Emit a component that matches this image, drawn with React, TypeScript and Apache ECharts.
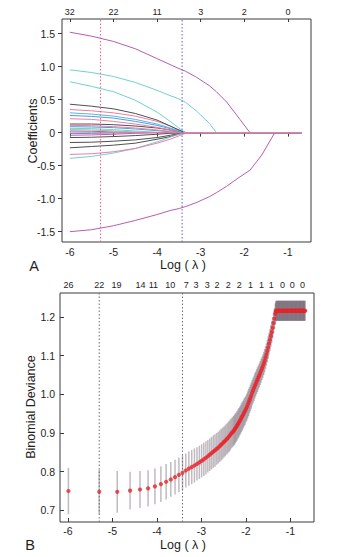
import { useEffect, useRef } from "react";
import * as echarts from "echarts";

// ---------- Panel A: coefficient paths ----------
const logLambdaA = [-6, -5.5, -5, -4.5, -4, -3.7, -3.5, -3.35, -3.1, -2.8, -2.64, -2.4, -2.1, -1.87, -1.6, -1.3, -0.69];

const coefPurpleTop = [1.52, 1.46, 1.38, 1.27, 1.12, 1.03, 0.97, 0.93, 0.84, 0.71, 0.62, 0.46, 0.2, 0, 0, 0, 0];
const coefPurpleBottom = [-1.5, -1.47, -1.41, -1.33, -1.24, -1.18, -1.15, -1.12, -1.06, -0.97, -0.91, -0.81, -0.67, -0.57, -0.34, 0, 0];
const coefCyanTop = [0.95, 0.91, 0.85, 0.76, 0.64, 0.56, 0.51, 0.46, 0.33, 0.14, 0, 0, 0, 0, 0, 0, 0];
const coefCyan2 = [0.77, 0.7, 0.62, 0.49, 0.31, 0.17, 0.07, 0, 0, 0, 0, 0, 0, 0, 0, 0, 0];
const coefBlack1 = [0.43, 0.4, 0.36, 0.29, 0.19, 0.1, 0.04, 0, 0, 0, 0, 0, 0, 0, 0, 0, 0];
const coefPink1 = [0.35, 0.33, 0.3, 0.25, 0.17, 0.1, 0.04, 0, 0, 0, 0, 0, 0, 0, 0, 0, 0];
const coefLightBlue1 = [0.3, 0.28, 0.25, 0.2, 0.13, 0.07, 0.03, 0, 0, 0, 0, 0, 0, 0, 0, 0, 0];
const coefBlue1 = [0.26, 0.245, 0.22, 0.17, 0.11, 0.06, 0.02, 0, 0, 0, 0, 0, 0, 0, 0, 0, 0];
const coefPink2 = [0.21, 0.2, 0.17, 0.13, 0.08, 0.04, 0.01, 0, 0, 0, 0, 0, 0, 0, 0, 0, 0];
const coefBlack2 = [0.13, 0.13, 0.12, 0.1, 0.07, 0.04, 0.015, 0, 0, 0, 0, 0, 0, 0, 0, 0, 0];
const coefPink3 = [0.11, 0.105, 0.09, 0.07, 0.04, 0.02, 0.005, 0, 0, 0, 0, 0, 0, 0, 0, 0, 0];
const coefBlue2 = [0.09, 0.085, 0.075, 0.055, 0.03, 0.012, 0, 0, 0, 0, 0, 0, 0, 0, 0, 0, 0];
const coefCyan3 = [0.065, 0.06, 0.045, 0.025, 0.005, 0, 0, 0, 0, 0, 0, 0, 0, 0, 0, 0, 0];
const coefGreen1 = [0.045, 0.04, 0.025, 0.01, 0, 0, 0, 0, 0, 0, 0, 0, 0, 0, 0, 0, 0];
const coefPurple3 = [0.025, 0.02, 0.01, 0, 0, 0, 0, 0, 0, 0, 0, 0, 0, 0, 0, 0, 0];
const coefBlue3 = [-0.015, -0.012, -0.006, 0, 0, 0, 0, 0, 0, 0, 0, 0, 0, 0, 0, 0, 0];
const coefPurple4 = [-0.04, -0.035, -0.025, -0.01, 0, 0, 0, 0, 0, 0, 0, 0, 0, 0, 0, 0, 0];
const coefBlack3 = [-0.075, -0.07, -0.06, -0.045, -0.025, -0.01, -0.003, 0, 0, 0, 0, 0, 0, 0, 0, 0, 0];
const coefBlack4 = [-0.15, -0.145, -0.13, -0.11, -0.075, -0.04, -0.015, 0, 0, 0, 0, 0, 0, 0, 0, 0, 0];
const coefBlack5 = [-0.23, -0.21, -0.19, -0.16, -0.1, -0.06, -0.025, 0, 0, 0, 0, 0, 0, 0, 0, 0, 0];
const coefCyan4 = [-0.39, -0.36, -0.31, -0.24, -0.14, -0.07, -0.025, 0, 0, 0, 0, 0, 0, 0, 0, 0, 0];
const coefPink5 = [-0.33, -0.32, -0.29, -0.24, -0.16, -0.1, -0.05, -0.01, 0, 0, 0, 0, 0, 0, 0, 0, 0];
const coefPink4 = [0.008, 0.005, 0, 0, 0, 0, 0, 0, 0, 0, 0, 0, 0, 0, 0, 0, 0];

const PURPLE = "#b65db4";
const CYAN = "#6fd0d6";
const DARK = "#505050";
const PINK = "#f17ba1";
const BLUE = "#4a9fdf";
const GREEN = "#8cc58c";

const pathsA: [number[], string][] = [
  [coefPurple3, PURPLE],
  [coefGreen1, GREEN],
  [coefCyan3, CYAN],
  [coefBlue3, BLUE],
  [coefPurple4, PURPLE],
  [coefBlue2, BLUE],
  [coefPink3, PINK],
  [coefBlack2, DARK],
  [coefBlack3, DARK],
  [coefPink2, PINK],
  [coefBlue1, BLUE],
  [coefLightBlue1, "#55b6e3"],
  [coefBlack4, DARK],
  [coefBlack5, DARK],
  [coefCyan4, CYAN],
  [coefPink1, PINK],
  [coefBlack1, DARK],
  [coefCyan2, CYAN],
  [coefCyanTop, CYAN],
  [coefPurpleTop, PURPLE],
  [coefPurpleBottom, PURPLE],
  [coefPink5, PINK],
  [coefPink4, PINK],
];

const ticksX = [-6, -5, -4, -3, -2, -1];
const dfTopA = ["32", "22", "11", "3", "2", "0"];
const ticksYA = [-1.5, -1, -0.5, 0, 0.5, 1, 1.5];
const lambdaMinLog = -5.298;
const lambda1seLog = -3.426;

// ---------- Panel B: cross-validation deviance ----------
const logLambdaB = [
  -5.991, -5.298, -4.893, -4.605, -4.382, -4.2, -4.046, -3.912, -3.794, -3.689, -3.594, -3.507, -3.426, -3.352,
  -3.283, -3.219, -3.158, -3.101, -3.047, -2.996, -2.947, -2.9, -2.856, -2.813, -2.773, -2.733, -2.696, -2.659,
  -2.624, -2.59, -2.557, -2.526, -2.495, -2.465, -2.436, -2.408, -2.381, -2.354, -2.328, -2.303,
  -2.28, -2.26, -2.24, -2.22, -2.2, -2.18, -2.16, -2.14, -2.12, -2.1, -2.08, -2.06, -2.04, -2.02, -2.0, -1.98,
  -1.96, -1.94, -1.92, -1.9, -1.88, -1.86, -1.84, -1.82, -1.8, -1.78, -1.76, -1.74, -1.72, -1.7, -1.68, -1.66,
  -1.64, -1.62, -1.6, -1.58, -1.56, -1.54, -1.52, -1.5, -1.48, -1.46, -1.44, -1.42, -1.4, -1.38, -1.36, -1.34,
  -1.33, -1.32, -1.31, -1.3, -1.29, -1.28, -1.27, -1.26, -1.25, -1.24, -1.23, -1.22, -1.21, -1.2, -1.19, -1.18,
  -1.17, -1.16, -1.15, -1.14, -1.13, -1.12, -1.11, -1.1, -1.09, -1.08, -1.07, -1.06, -1.05, -1.04, -1.03, -1.02,
  -1.01, -1.0, -0.99, -0.98, -0.97, -0.96, -0.95, -0.94, -0.93, -0.92, -0.91, -0.9, -0.89, -0.88, -0.87, -0.86,
  -0.85, -0.84, -0.83, -0.82, -0.81, -0.8, -0.79, -0.78, -0.77, -0.76, -0.75, -0.74, -0.73, -0.72, -0.71, -0.7,
  -0.69, -0.68, -0.67,
];
const devianceB = [
  0.75, 0.748, 0.748, 0.751, 0.754, 0.757, 0.762, 0.768, 0.774, 0.78, 0.786, 0.792, 0.797, 0.803,
  0.808, 0.812, 0.816, 0.82, 0.824, 0.828, 0.832, 0.836, 0.84, 0.844, 0.848, 0.852, 0.855, 0.859,
  0.862, 0.866, 0.87, 0.873, 0.877, 0.88, 0.884, 0.887, 0.891, 0.895, 0.899, 0.902,
  0.905, 0.908, 0.912, 0.915, 0.919, 0.923, 0.927, 0.931, 0.935, 0.94, 0.944, 0.948, 0.953, 0.957, 0.962, 0.967,
  0.973, 0.979, 0.985, 0.991, 0.997, 1.004, 1.01, 1.016, 1.022, 1.027, 1.033, 1.038, 1.044, 1.049, 1.055, 1.061,
  1.067, 1.073, 1.08, 1.087, 1.095, 1.103, 1.112, 1.121, 1.131, 1.141, 1.151, 1.161, 1.172, 1.184, 1.196, 1.208,
  1.214, 1.216, 1.216, 1.216, 1.216, 1.216, 1.216, 1.216, 1.216, 1.216, 1.216, 1.216, 1.216, 1.216, 1.216, 1.216,
  1.216, 1.216, 1.216, 1.216, 1.216, 1.216, 1.216, 1.216, 1.216, 1.216, 1.216, 1.216, 1.216, 1.216, 1.216, 1.216,
  1.216, 1.216, 1.216, 1.216, 1.216, 1.216, 1.216, 1.216, 1.216, 1.216, 1.216, 1.216, 1.216, 1.216, 1.216, 1.216,
  1.216, 1.216, 1.216, 1.216, 1.216, 1.216, 1.216, 1.216, 1.216, 1.216, 1.216, 1.216, 1.216, 1.216, 1.216, 1.216,
  1.216, 1.216, 1.216,
];
const devianceSE = [
  0.06, 0.057, 0.054, 0.049, 0.048, 0.047, 0.046, 0.046, 0.046, 0.045, 0.045, 0.045, 0.045, 0.044,
  0.044, 0.044, 0.044, 0.043, 0.043, 0.043, 0.043, 0.043, 0.042, 0.042, 0.042, 0.042, 0.042, 0.041,
  0.041, 0.041, 0.041, 0.041, 0.04, 0.04, 0.04, 0.04, 0.04, 0.04, 0.039, 0.039,
  0.039, 0.039, 0.039, 0.038, 0.038, 0.038, 0.038, 0.037, 0.037, 0.037, 0.037, 0.036, 0.036, 0.036, 0.035, 0.035,
  0.035, 0.035, 0.034, 0.034, 0.034, 0.033, 0.033, 0.033, 0.033, 0.032, 0.032, 0.032, 0.031, 0.031, 0.031, 0.031,
  0.03, 0.03, 0.03, 0.03, 0.029, 0.029, 0.029, 0.029, 0.028, 0.028, 0.028, 0.028, 0.027, 0.027, 0.027, 0.027,
  0.026, 0.026, 0.026, 0.026, 0.026, 0.026, 0.026, 0.026, 0.026, 0.026, 0.026, 0.026, 0.026, 0.026, 0.026, 0.026,
  0.026, 0.026, 0.026, 0.026, 0.026, 0.026, 0.026, 0.026, 0.026, 0.026, 0.026, 0.026, 0.026, 0.026, 0.026, 0.026,
  0.026, 0.026, 0.026, 0.026, 0.026, 0.026, 0.026, 0.026, 0.026, 0.026, 0.026, 0.026, 0.026, 0.026, 0.026, 0.026,
  0.026, 0.026, 0.026, 0.026, 0.026, 0.026, 0.026, 0.026, 0.026, 0.026, 0.026, 0.026, 0.026, 0.026, 0.026, 0.026,
  0.026, 0.026, 0.026,
];
const dfTopBPos = [-5.99, -5.3, -4.91, -4.37, -4.08, -3.7, -3.34, -3.12, -2.87, -2.65, -2.4, -2.15, -1.9, -1.65, -1.43, -1.18, -0.96, -0.73];
const dfTopBLabels = ["26", "22", "19", "14", "11", "10", "7", "3", "3", "2", "2", "2", "1", "1", "1", "0", "0", "0"];
const ticksYB = [0.7, 0.8, 0.9, 1.0, 1.1, 1.2];

const X_MIN = -6.18;
const X_MAX = -0.47;
const YA_MIN = -1.656;
const YA_MAX = 1.72;
const YB_MIN = 0.67;
const YB_MAX = 1.262;
const FONT = "Liberation Sans, Arial, Helvetica, sans-serif";
const TXT = "#1e1e1e";
const AXC = "#3a3a3a";

function nearestLabel(v: number, pos: number[], labels: string[]) {
  let best = 0;
  let bd = Infinity;
  pos.forEach((p, i) => {
    const d = Math.abs(p - v);
    if (d < bd) {
      bd = d;
      best = i;
    }
  });
  return labels[best];
}

function vLine(x: number, y0: number, y1: number, color: string, xAxisIndex: number, yAxisIndex: number) {
  return {
    type: "line",
    xAxisIndex,
    yAxisIndex,
    symbol: "none",
    silent: true,
    lineStyle: { color, type: [1.5, 2], width: 1 },
    data: [
      [x, y0],
      [x, y1],
    ],
  };
}

export default function App() {
  const ref = useRef<HTMLDivElement>(null);
  useEffect(() => {
    if (!ref.current) return;
    const chart = echarts.init(ref.current, undefined, { renderer: "svg" });

    const baseAxis = {
      type: "value" as const,
      min: X_MIN,
      max: X_MAX,
      axisLine: { show: false },
      splitLine: { show: false },
    };

    const lineSeries = pathsA.map(([vals, color]) => ({
      type: "line",
      xAxisIndex: 0,
      yAxisIndex: 0,
      symbol: "none",
      silent: true,
      lineStyle: { width: 1, color },
      data: logLambdaA.map((x, i) => [x, vals[i]]),
    }));

    const option: any = {
      animation: false,
      textStyle: { fontFamily: FONT },
      grid: [
        { left: 62, top: 19, width: 249, height: 223, show: true, borderColor: AXC, borderWidth: 1, backgroundColor: "transparent" },
        { left: 60, top: 293, width: 254, height: 229, show: true, borderColor: AXC, borderWidth: 1, backgroundColor: "transparent" },
      ],
      xAxis: [
        {
          ...baseAxis,
          gridIndex: 0,
          position: "bottom",
          axisTick: { show: true, customValues: ticksX, length: 4, inside: false, lineStyle: { color: AXC } },
          axisLabel: { customValues: ticksX, fontSize: 10.5, color: TXT, margin: 4, fontFamily: FONT },
        },
        {
          ...baseAxis,
          gridIndex: 0,
          position: "top",
          axisTick: { show: true, customValues: ticksX, length: 3, inside: true, lineStyle: { color: AXC } },
          axisLabel: {
            customValues: ticksX,
            fontSize: 9,
            color: TXT,
            margin: 3,
            fontFamily: FONT,
            formatter: (v: number) => nearestLabel(v, ticksX, dfTopA),
          },
        },
        {
          ...baseAxis,
          gridIndex: 1,
          position: "bottom",
          axisTick: { show: true, customValues: ticksX, length: 4, inside: true, lineStyle: { color: AXC } },
          axisLabel: { customValues: ticksX, fontSize: 10.5, color: TXT, margin: 3, fontFamily: FONT },
        },
        {
          ...baseAxis,
          gridIndex: 1,
          position: "top",
          axisTick: { show: false },
          axisLabel: {
            customValues: dfTopBPos,
            fontSize: 9,
            color: TXT,
            margin: 4,
            fontFamily: FONT,
            formatter: (v: number) => nearestLabel(v, dfTopBPos, dfTopBLabels),
          },
        },
      ],
      yAxis: [
        {
          type: "value",
          gridIndex: 0,
          min: YA_MIN,
          max: YA_MAX,
          axisLine: { show: false },
          splitLine: { show: false },
          axisTick: { show: true, customValues: ticksYA, length: 4, inside: false, lineStyle: { color: AXC } },
          axisLabel: {
            customValues: ticksYA,
            fontSize: 10.5,
            color: TXT,
            margin: 7,
            fontFamily: FONT,
            formatter: (v: number) => (Math.abs(v) < 1e-9 ? "0" : v.toFixed(1)),
          },
        },
        {
          type: "value",
          gridIndex: 1,
          min: YB_MIN,
          max: YB_MAX,
          axisLine: { show: false },
          splitLine: { show: false },
          axisTick: { show: true, customValues: ticksYB, length: 4, inside: true, lineStyle: { color: AXC } },
          axisLabel: {
            customValues: ticksYB,
            fontSize: 10.5,
            color: TXT,
            margin: 5,
            fontFamily: FONT,
            formatter: (v: number) => v.toFixed(1),
          },
        },
      ],
      series: [
        ...lineSeries,
        vLine(lambdaMinLog, YA_MIN, YA_MAX, "#f2607c", 0, 0),
        vLine(lambda1seLog, YA_MIN, YA_MAX, "#5f5fe2", 0, 0),
        {
          type: "custom",
          xAxisIndex: 2,
          yAxisIndex: 1,
          silent: true,
          clip: true,
          encode: { x: 0, y: [1, 2] },
          data: logLambdaB.map((x, i) => [x, devianceB[i] - devianceSE[i], devianceB[i] + devianceSE[i]]),
          renderItem: (_params: any, api: any) => {
            const x = api.value(0);
            const p1 = api.coord([x, api.value(1)]);
            const p2 = api.coord([x, api.value(2)]);
            return {
              type: "line",
              shape: { x1: p1[0], y1: p1[1], x2: p2[0], y2: p2[1] },
              style: { stroke: "rgba(106,90,104,0.42)", lineWidth: 1.5 },
            };
          },
        },
        vLine(lambdaMinLog, YB_MIN, YB_MAX, "#707070", 2, 1),
        vLine(lambda1seLog, YB_MIN, YB_MAX, "#707070", 2, 1),
        {
          type: "scatter",
          xAxisIndex: 2,
          yAxisIndex: 1,
          silent: true,
          symbolSize: 4.2,
          itemStyle: { color: "#e8242b" },
          data: logLambdaB.map((x, i) => [x, devianceB[i]]),
        },
      ],
      graphic: [
        { type: "text", x: 33, y: 131, rotation: Math.PI / 2, style: { text: "Coefficients", fontSize: 12.5, fill: TXT, align: "center", verticalAlign: "middle", fontFamily: FONT } },
        { type: "text", x: 183, y: 265, style: { text: "Log ( λ )", fontSize: 12.5, fill: TXT, align: "center", verticalAlign: "middle", fontFamily: FONT } },
        { type: "text", x: 34, y: 266, style: { text: "A", fontSize: 14.5, fill: TXT, align: "center", verticalAlign: "middle", fontFamily: FONT } },
        { type: "text", x: 31, y: 407, rotation: Math.PI / 2, style: { text: "Binomial Deviance", fontSize: 12.5, fill: TXT, align: "center", verticalAlign: "middle", fontFamily: FONT } },
        { type: "text", x: 183, y: 545, style: { text: "Log ( λ )", fontSize: 12.5, fill: TXT, align: "center", verticalAlign: "middle", fontFamily: FONT } },
        { type: "text", x: 30, y: 545, style: { text: "B", fontSize: 14.5, fill: TXT, align: "center", verticalAlign: "middle", fontFamily: FONT } },
      ],
    };

    chart.setOption(option);
    return () => chart.dispose();
  }, []);

  return <div ref={ref} style={{ width: 359, height: 557, position: "absolute", left: 0, top: 0, background: "#fff" }} />;
}
